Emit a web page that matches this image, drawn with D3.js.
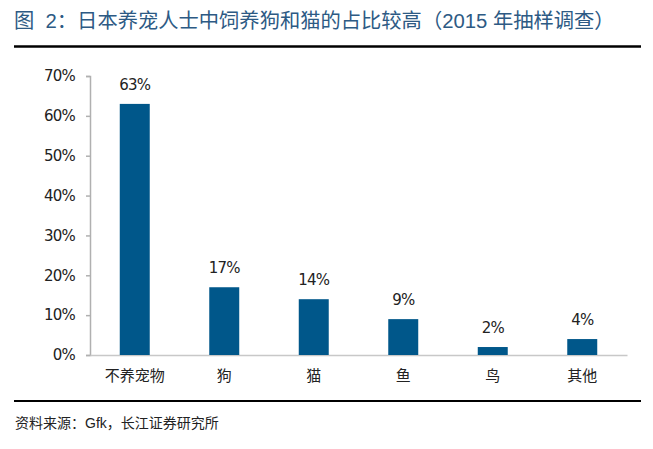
<!DOCTYPE html>
<html><head><meta charset="utf-8">
<script src="https://cdn.jsdelivr.net/npm/d3@7"></script>
<style>
body{margin:0;background:#fff;}
text{font-family:"Liberation Sans","Noto Sans CJK SC",sans-serif;}
</style></head>
<body><svg id="c" width="653" height="449"></svg>
<script>
const categories = ["不养宠物","狗","猫","鱼","鸟","其他"];
const values = [63,17,14,9,2,4];
const yTicks = [0,10,20,30,40,50,60,70];
const title = "图  2：日本养宠人士中饲养狗和猫的占比较高（2015 年抽样调查）";
const source = "资料来源：Gfk，长江证券研究所";

const svg = d3.select("#c");
svg.append("text").attr("x",14).attr("y",28).attr("fill","#2d5a84")
  .attr("font-size",20.3).style("white-space","pre").text(title);
svg.append("line").attr("x1",14).attr("x2",641).attr("y1",46.5).attr("y2",46.5)
  .attr("stroke","#000").attr("stroke-width",2.5);
svg.append("line").attr("x1",14).attr("x2",641).attr("y1",401).attr("y2",401)
  .attr("stroke","#000").attr("stroke-width",2);
svg.append("text").attr("x",15).attr("y",428).attr("fill","#222")
  .attr("font-size",14).text(source);

const x = d3.scaleBand().domain(categories).range([90,627]).paddingInner(0.665).paddingOuter(0.3325);
const y = d3.scaleLinear().domain([0,70]).range([355,76]);

const numFont = "'DejaVu Sans','Liberation Sans',sans-serif";
const yAxis = svg.append("g").attr("transform","translate(90,0)")
  .call(d3.axisLeft(y).tickValues(yTicks).tickFormat(d=>d+"%").tickSize(4).tickSizeOuter(4));
yAxis.select(".domain").attr("stroke","#b0b0b0").attr("stroke-width",1.5);
yAxis.selectAll(".tick line").attr("stroke","#b0b0b0").attr("stroke-width",1.5);
yAxis.selectAll("text").attr("font-size",15).attr("fill","#222").attr("x",-15)
  .style("font-family",numFont).attr("letter-spacing","-0.8");

const xAxis = svg.append("g").attr("transform","translate(0,355)")
  .call(d3.axisBottom(x).tickSize(0).tickSizeOuter(0));
xAxis.select(".domain").attr("stroke","#c8c8c8").attr("stroke-width",1.5);
xAxis.selectAll("text").attr("font-size",15).attr("fill","#222").attr("dy","1.5em");

svg.selectAll("rect.bar").data(values).join("rect").attr("class","bar")
  .attr("x",(d,i)=>x(categories[i])).attr("width",x.bandwidth())
  .attr("y",d=>y(d)).attr("height",d=>y(0)-y(d)).attr("fill","#00578a");

svg.selectAll("text.lbl").data(values).join("text").attr("class","lbl")
  .attr("x",(d,i)=>x(categories[i])+x.bandwidth()/2).attr("y",d=>y(d)-14)
  .attr("text-anchor","middle").attr("font-size",15).attr("fill","#222")
  .style("font-family",numFont).attr("letter-spacing","-0.8")
  .text(d=>d+"%");
</script></body></html>
